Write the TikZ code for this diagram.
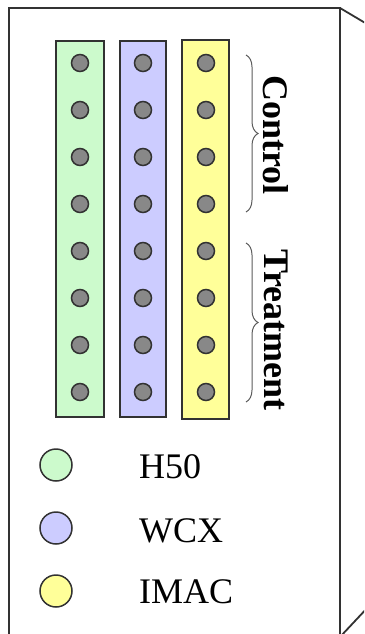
\documentclass[tikz,border=0pt]{standalone}
\usepackage{fontspec}
\setmainfont{Liberation Serif}
\usetikzlibrary{decorations.pathreplacing}

\definecolor{hgreen}{RGB}{204,250,204}
\definecolor{wblue}{RGB}{204,204,255}
\definecolor{iyellow}{RGB}{255,255,153}
\definecolor{edge}{RGB}{50,50,50}
\definecolor{beadgray}{RGB}{136,136,136}

\tikzset{
  frameline/.style={draw=edge, line width=1.8pt},
  strip/.style={draw=edge, line width=1.6pt},
  bead/.style={circle, draw=edge, fill=beadgray, line width=1.5pt, minimum size=17pt, inner sep=0pt},
  swatch/.style={circle, draw=edge, line width=1.5pt, minimum size=32pt, inner sep=0pt},
  grouptext/.style={font=\fontsize{36}{40}\selectfont\bfseries, rotate=-90, inner sep=0pt},
  legendtext/.style={font=\fontsize{36}{40}\selectfont, anchor=base west, inner sep=0pt},
  bracket/.style={draw=edge!80, line width=1pt, decorate, decoration={brace, amplitude=12pt}}
}

\begin{document}
\begin{tikzpicture}[x=1pt, y=-1pt]
    \clip (0,0) rectangle (364,634);

    % Frame
    \draw[frameline] (9,650) -- (9,8) -- (340,8) -- (340,650);
    \draw[frameline] (340,8) -- (372,27);
    \draw[frameline] (340,637) -- (370,605);

    % Strips
    \draw[strip, fill=hgreen] (56,41) rectangle (104,417);
    \draw[strip, fill=wblue] (120,41) rectangle (166,417);
    \draw[strip, fill=iyellow] (182,40) rectangle (229,419);

    % Beads on each strip
    \foreach \i in {1,...,8} {
        \node[bead] (h\i) at (80, 16+47*\i) {};
        \node[bead] (w\i) at (143, 16+47*\i) {};
        \node[bead] (m\i) at (206, 16+47*\i) {};
    }

    % Groups
    \draw[bracket] (246,55) -- (246,212);
    \draw[bracket] (246,243) -- (246,402);
    \node[grouptext] (ctrl) at (276,135) {Control};
    \node[grouptext] (treat) at (276,330) {Treatment};

    % Legend
    \node[swatch, fill=hgreen] (kh) at (56,465) {};
    \node[swatch, fill=wblue] (kw) at (56,528) {};
    \node[swatch, fill=iyellow] (km) at (56,591) {};
    \node[legendtext] (th) at (139,478) {H50};
    \node[legendtext] (tw) at (139,542) {WCX};
    \node[legendtext] (tm) at (139,603) {IMAC};
\end{tikzpicture}
\end{document}
